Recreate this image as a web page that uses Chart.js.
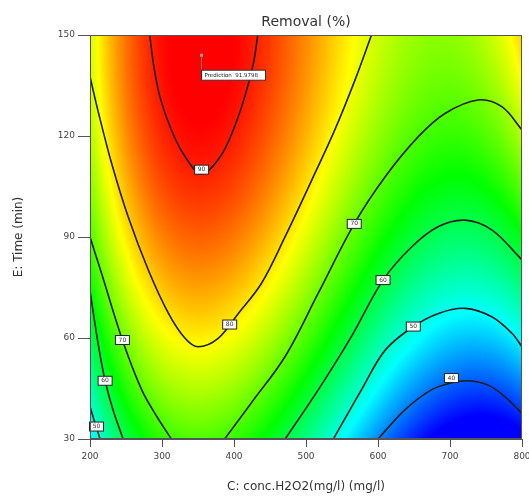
<!DOCTYPE html>
<html>
<head>
<meta charset="utf-8">
<script src="https://cdn.jsdelivr.net/npm/chart.js@4.4.0/dist/chart.umd.min.js"></script>
<style>
  html, body { margin: 0; padding: 0; background: #fff; }
</style>
</head>
<body>
<canvas id="chart" width="529" height="500"></canvas>
<script>
// axis ticks
const xTicks = [200, 300, 400, 500, 600, 700, 800];
const yTicks = [30, 60, 90, 120, 150];

// contour lines: [conc H2O2 (mg/l), time (min)]
const c90 = [[283,150],[288,141.6],[297,131.7],[313,121.8],[332,113.9],[355,108.7],[381,113.9],[399,121.8],[415,131.7],[427,141.6],[433,150]];
const c80 = [[200,137.6],[212,126.7],[230,111.9],[253,96],[281,80.2],[309,67.3],[332,59.9],[350,57.4],[378,59.9],[406,67.3],[438,76.2],[471,90.1],[508,106.9],[540,121.8],[568,136.6],[591,150]];
const c70a = [[200,90],[216,79.2],[245,59.4],[272,44.5],[293,36.6],[313,30]];
const c70b = [[387,30],[424,40.7],[471,54.5],[517,73.3],[567,93.9],[610,107.9],[656,119.8],[693,126.7],[739,130.7],[772,128.7],[800,121.8]];
const c60a = [[200,74],[212,57.4],[221,47.3],[232,38.6],[246,30]];
const c60b = [[471,30],[517,44.6],[563,60.4],[607,77.2],[647,87.1],[684,93.1],[721,95],[758,92.1],[800,83.2]];
const c50a = [[200,39.6],[207,34.7],[214,30]];
const c50b = [[538,30],[577,44.6],[610,56.4],[649,63.4],[684,67.3],[721,68.8],[758,66.3],[786,61.4],[800,57.4]];
const c40 = [[600,30],[637,38.6],[674,44.6],[702,46.7],[725,47.3],[753,46],[776,42.6],[800,37.6]];

const contourLines = [c90, c80, c70a, c70b, c60a, c60b, c50a, c50b, c40];
const contourLevels = [90, 80, 70, 70, 60, 60, 50, 50, 40];

// contour label boxes
const labelX = [355, 394, 245, 567, 221, 607, 209, 649, 702];
const labelT = [110, 64, 59.4, 93.9, 47.3, 77.2, 33.7, 63.4, 48.1];
const labelText = ['90', '80', '70', '70', '60', '60', '50', '50', '40'];

// prediction flag
const predX = 354;
const predT = 144;
const predValue = 91.9798;

// colour scale range
const zMin = 35;
const zMax = 92.5;

// surface fitted through the contour points (cubic response surface)
function basis(x, t) {
    const u = (x - 500) / 300, v = (t - 90) / 60;
    return [1, u, v, u*u, u*v, v*v, u*u*u, u*u*v, u*v*v, v*v*v];
}

function fitSurface() {
    const samples = [];
    contourLines.forEach((line, i) => {
        line.forEach(p => samples.push([p[0], p[1], contourLevels[i], 1]));
    });
    samples.push([predX, predT, predValue, 4]);

    const n = basis(0, 0).length;
    const A = Array.from({length: n}, () => new Array(n).fill(0));
    const b = new Array(n).fill(0);
    samples.forEach(([x, t, z, w]) => {
        const f = basis(x, t);
        for (let i = 0; i < n; i++) {
            b[i] += w * f[i] * z;
            for (let j = 0; j < n; j++) A[i][j] += w * f[i] * f[j];
        }
    });
    for (let i = 0; i < n; i++) A[i][i] += 1e-6;

    // gauss elimination
    for (let c = 0; c < n; c++) {
        let p = c;
        for (let r = c + 1; r < n; r++) if (Math.abs(A[r][c]) > Math.abs(A[p][c])) p = r;
        [A[c], A[p]] = [A[p], A[c]];
        [b[c], b[p]] = [b[p], b[c]];
        for (let r = c + 1; r < n; r++) {
            const k = A[r][c] / A[c][c];
            for (let j = c; j < n; j++) A[r][j] -= k * A[c][j];
            b[r] -= k * b[c];
        }
    }
    const coef = new Array(n).fill(0);
    for (let r = n - 1; r >= 0; r--) {
        let s = b[r];
        for (let j = r + 1; j < n; j++) s -= A[r][j] * coef[j];
        coef[r] = s / A[r][r];
    }
    return coef;
}

const coef = fitSurface();

function surface(x, t) {
    const f = basis(x, t);
    let s = 0;
    for (let i = 0; i < f.length; i++) s += coef[i] * f[i];
    return s;
}

const stops = [
    [0.00, 0, 0, 255],
    [0.25, 0, 255, 255],
    [0.50, 0, 255, 0],
    [0.75, 255, 255, 0],
    [1.00, 255, 0, 0]
];

function colorFor(z) {
    let f = (z - zMin) / (zMax - zMin);
    f = Math.max(0, Math.min(1, f));
    for (let i = 1; i < stops.length; i++) {
        if (f <= stops[i][0]) {
            const a = stops[i-1], b = stops[i];
            const k = (f - a[0]) / (b[0] - a[0]);
            return [a[1] + (b[1]-a[1])*k, a[2] + (b[2]-a[2])*k, a[3] + (b[3]-a[3])*k];
        }
    }
    return [255, 0, 0];
}

const surfacePlugin = {
    id: 'surface',
    beforeDatasetsDraw(chart) {
        const {ctx, chartArea: a, scales: {x, y}} = chart;
        const w = Math.round(a.right - a.left), h = Math.round(a.bottom - a.top);
        const off = document.createElement('canvas');
        off.width = w; off.height = h;
        const octx = off.getContext('2d');
        const img = octx.createImageData(w, h);
        for (let j = 0; j < h; j++) {
            const t = y.getValueForPixel(a.top + j + 0.5);
            for (let i = 0; i < w; i++) {
                const c = colorFor(surface(x.getValueForPixel(a.left + i + 0.5), t));
                const k = (j * w + i) * 4;
                img.data[k] = c[0]; img.data[k+1] = c[1]; img.data[k+2] = c[2]; img.data[k+3] = 255;
            }
        }
        octx.putImageData(img, 0, 0);
        ctx.drawImage(off, a.left, a.top, w, h);
    }
};

const decorPlugin = {
    id: 'decor',
    afterDatasetsDraw(chart) {
        const {ctx, chartArea: a, scales: {x, y}} = chart;
        ctx.save();
        // contour labels
        ctx.font = '6px "DejaVu Sans"';
        ctx.textAlign = 'center';
        ctx.textBaseline = 'middle';
        labelText.forEach((txt, i) => {
            const px = x.getPixelForValue(labelX[i]), py = y.getPixelForValue(labelT[i]);
            ctx.fillStyle = '#fff';
            ctx.fillRect(px - 7, py - 4.5, 14, 9);
            ctx.strokeStyle = '#222';
            ctx.lineWidth = 1;
            ctx.strokeRect(px - 7, py - 4.5, 14, 9);
            ctx.fillStyle = '#333';
            ctx.fillText(txt, px, py);
        });

        // prediction flag
        const fx = Math.round(x.getPixelForValue(predX)) + 0.5, fy = y.getPixelForValue(predT);
        ctx.strokeStyle = '#777';
        ctx.lineWidth = 1;
        ctx.beginPath();
        ctx.moveTo(fx, fy);
        ctx.lineTo(fx, fy + 17);
        ctx.stroke();
        ctx.fillStyle = '#999';
        ctx.fillRect(fx - 1.5, fy - 1.5, 3, 3);
        ctx.fillStyle = '#fff';
        ctx.fillRect(fx, fy + 15, 64, 10);
        ctx.strokeStyle = '#333';
        ctx.strokeRect(fx, fy + 15, 64, 10);
        ctx.fillStyle = '#222';
        ctx.font = '5.5px "DejaVu Sans"';
        ctx.textAlign = 'left';
        ctx.fillText('Prediction  ' + predValue, fx + 3, fy + 20.5);

        // frame
        ctx.strokeStyle = '#555';
        ctx.lineWidth = 1;
        ctx.strokeRect(a.left + 0.5, a.top + 0.5, a.right - a.left - 1, a.bottom - a.top - 1);

        // title
        ctx.fillStyle = '#333';
        ctx.font = '14px "DejaVu Sans"';
        ctx.textAlign = 'center';
        ctx.textBaseline = 'middle';
        ctx.fillText('Removal (%)', (a.left + a.right) / 2, 22);
        ctx.restore();
    }
};

const datasets = contourLines.map(line => ({
    data: line.map(p => ({x: p[0], y: p[1]})),
    showLine: true,
    borderColor: '#1c1c1c',
    borderWidth: 1.6,
    pointRadius: 0,
    tension: 0.35,
    fill: false
}));

new Chart(document.getElementById('chart'), {
    type: 'scatter',
    data: { datasets },
    options: {
        responsive: false,
        animation: false,
        layout: { padding: { left: 8, right: 7, top: 35, bottom: 0 } },
        plugins: { legend: { display: false }, tooltip: { enabled: false } },
        scales: {
            x: {
                type: 'linear',
                min: 200, max: 800,
                afterBuildTicks: s => { s.ticks = xTicks.map(v => ({value: v})); },
                afterFit: s => { s.height = 61; s.paddingLeft = 0; s.paddingRight = 0; },
                grid: { drawOnChartArea: false, drawTicks: true, tickLength: 8, color: '#555' },
                border: { display: true, color: '#555' },
                ticks: { color: '#444', font: { size: 9, family: 'DejaVu Sans' }, padding: 4, maxRotation: 0 },
                title: { display: true, text: 'C: conc.H2O2(mg/l) (mg/l)', color: '#333', font: { size: 12, family: 'DejaVu Sans' }, padding: { top: 4, bottom: 6 } }
            },
            y: {
                type: 'linear',
                min: 30, max: 150,
                afterBuildTicks: s => { s.ticks = yTicks.map(v => ({value: v})); },
                afterFit: s => { s.width = 82; s.paddingTop = 0; s.paddingBottom = 0; },
                grid: { drawOnChartArea: false, drawTicks: true, tickLength: 12, color: '#555' },
                border: { display: true, color: '#555' },
                ticks: { color: '#444', font: { size: 9, family: 'DejaVu Sans' }, padding: 3 },
                title: { display: true, text: 'E: Time (min)', color: '#333', font: { size: 12, family: 'DejaVu Sans' }, padding: { top: 4, bottom: 4 } }
            }
        }
    },
    plugins: [surfacePlugin, decorPlugin]
});
</script>
</body>
</html>
